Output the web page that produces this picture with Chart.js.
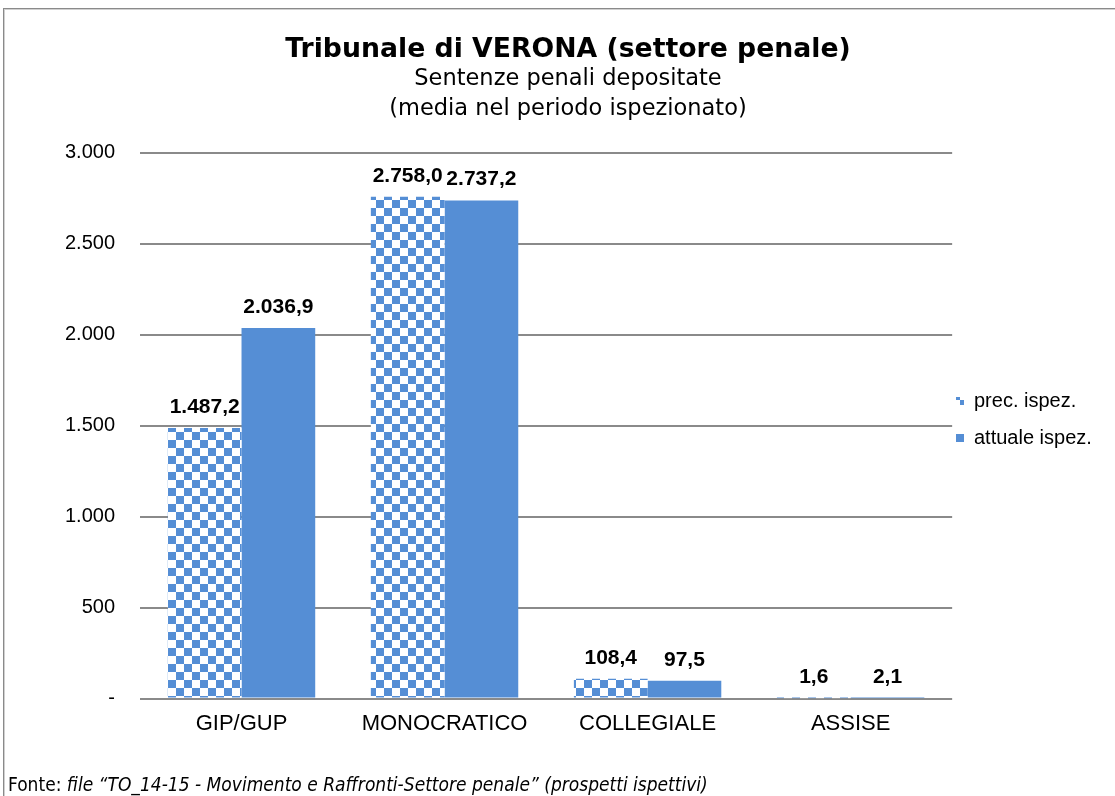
<!DOCTYPE html>
<html><head><meta charset="utf-8">
<script src="https://cdn.jsdelivr.net/npm/chart.js@4"></script>
<style>
html,body{margin:0;padding:0;background:#fff;overflow:hidden;width:1115px;height:796px}
#frame{position:absolute;left:3px;top:8px;width:1300px;height:1000px;border-left:1px solid #8a8a8a;border-top:1px solid #8a8a8a;box-shadow:inset 1px 1px 0 #d0d0d0;}
#c{position:absolute;left:0;top:0}
#foot{position:absolute;left:8px;top:775px;font-size:19px;line-height:19px;font-family:"DejaVu Sans Condensed","DejaVu Sans",sans-serif;color:#000;white-space:nowrap}
</style></head><body>
<div id="frame"></div>
<canvas id="c" width="1115" height="796"></canvas>
<div id="foot">Fonte: <i>file “TO_14-15 - Movimento e Raffronti-Settore penale” (prospetti ispettivi)</i></div>
<script>
const categories = ['GIP/GUP', 'MONOCRATICO', 'COLLEGIALE', 'ASSISE'];
const precValues = [1487.2, 2758.0, 108.4, 1.6];
const attualeValues = [2036.9, 2737.2, 97.5, 2.1];
const seriesNames = ['prec. ispez.', 'attuale ispez.'];
const yMin = 0, yMax = 3000, yStep = 500;
const titleText = 'Tribunale di VERONA (settore penale)';
const subtitleLines = ['Sentenze penali depositate', '(media nel periodo ispezionato)'];

const BLUE = '#558ED5';
const ARIAL = '"Liberation Sans", Arial, sans-serif';
const VERDANA = '"DejaVu Sans", Verdana, sans-serif';

function itNum(v, dec) {
  const s = v.toFixed(dec);
  let [i, d] = s.split('.');
  i = i.replace(/\B(?=(\d{3})+(?!\d))/g, '.');
  return d ? i + ',' + d : i;
}

function makeChecker(color, size) {
  const c = document.createElement('canvas');
  c.width = c.height = size * 2;
  const x = c.getContext('2d');
  x.fillStyle = '#fff'; x.fillRect(0, 0, size * 2, size * 2);
  x.fillStyle = color; x.fillRect(0, 0, size, size); x.fillRect(size, size, size, size);
  return document.getElementById('c').getContext('2d').createPattern(c, 'repeat');
}

const valueLabels = {
  id: 'valueLabels',
  afterDatasetsDraw(chart) {
    const ctx = chart.ctx;
    ctx.save();
    ctx.font = 'bold 21px ' + ARIAL;
    ctx.fillStyle = '#000';
    ctx.textAlign = 'center';
    ctx.textBaseline = 'middle';
    chart.data.datasets.forEach((ds, i) => {
      chart.getDatasetMeta(i).data.forEach((bar, j) => {
        ctx.fillText(itNum(ds.data[j], 1), bar.x, bar.y - 21);
      });
    });
    ctx.restore();
  }
};

const LEG_PAD = 17;
const legendShift = {
  id: 'legendShift',
  afterLayout(chart) {
    const lg = chart.legend;
    const w = lg.width;
    lg.left = 956 - LEG_PAD;
    lg.right = lg.left + w;
    lg.top = 374;
    lg.bottom = lg.top + LEG_PAD + 2 * (20 + LEG_PAD);
    lg.height = lg.bottom - lg.top;
  }
};

new Chart(document.getElementById('c'), {
  type: 'bar',
  data: {
    labels: categories,
    datasets: [
      { label: seriesNames[0], data: precValues, backgroundColor: makeChecker(BLUE, 8), borderWidth: 0,
        categoryPercentage: 0.726, barPercentage: 1.0 },
      { label: seriesNames[1], data: attualeValues, backgroundColor: BLUE, borderWidth: 0,
        categoryPercentage: 0.726, barPercentage: 1.0 }
    ]
  },
  options: {
    responsive: false,
    animation: false,
    devicePixelRatio: 1,
    layout: { padding: { left: 21, right: 0, top: 0, bottom: 47 } },
    plugins: {
      title: {
        display: true, text: titleText, color: '#000',
        font: { family: VERDANA, size: 26.7, weight: 'bold', lineHeight: 1.0 },
        padding: { top: 37, bottom: 0 }
      },
      subtitle: {
        display: true, text: subtitleLines, color: '#000',
        font: { family: VERDANA, size: 22.5, weight: 'normal', lineHeight: 1.3333 },
        padding: { top: 0, bottom: 29 }
      },
      legend: {
        position: 'right',
        labels: {
          boxWidth: 8, boxHeight: 8, padding: LEG_PAD, color: '#000',
          font: { family: ARIAL, size: 20 }
        }
      },
      tooltip: { enabled: false }
    },
    scales: {
      x: {
        grid: { display: false, drawTicks: false },
        border: { display: false },
        ticks: { color: '#000', padding: 12, font: { family: ARIAL, size: 22 } }
      },
      y: {
        min: yMin, max: yMax,
        afterFit(scale) { scale.width = 140 - 21; },
        grid: { color: '#8a8a8a', lineWidth: 2, drawTicks: false },
        border: { display: false },
        ticks: {
          stepSize: yStep, color: '#000', padding: 25,
          font: { family: ARIAL, size: 20 },
          callback: v => v === 0 ? '-' : itNum(v, 0)
        }
      }
    }
  },
  plugins: [valueLabels, legendShift]
});
</script>
</body></html>
